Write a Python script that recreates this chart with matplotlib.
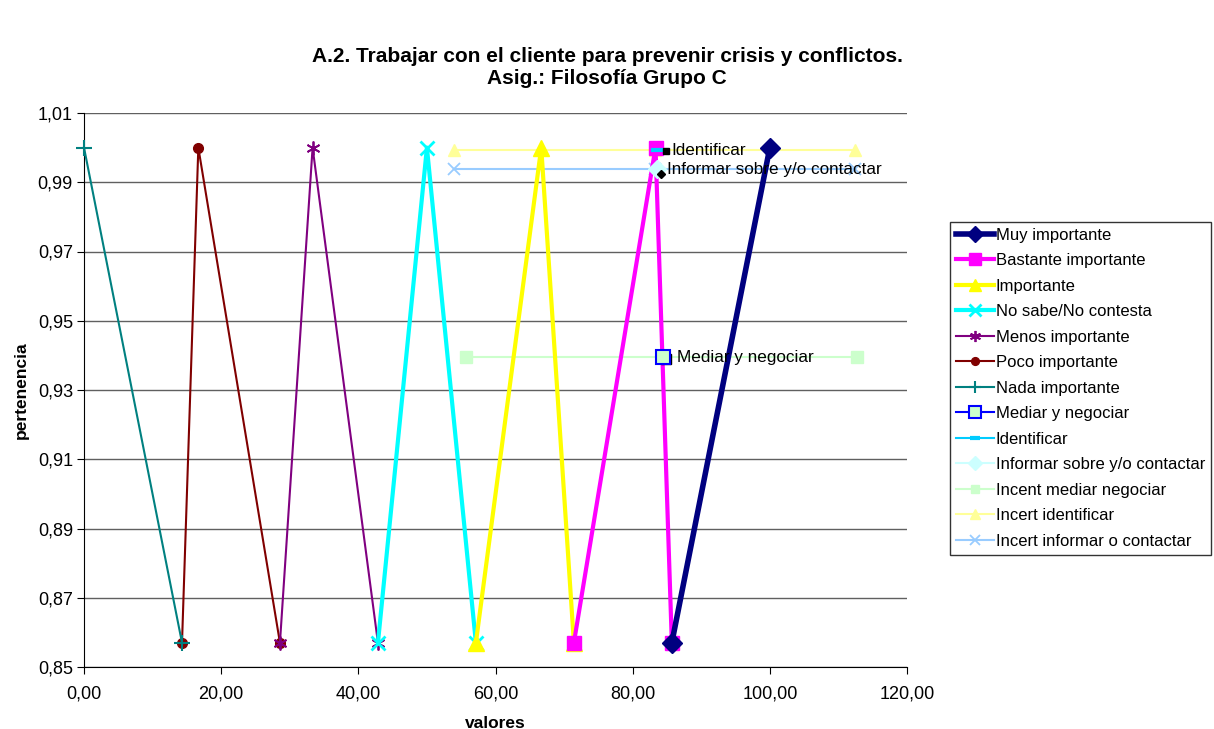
import matplotlib
matplotlib.use("Agg")
import matplotlib.pyplot as plt

plt.rcParams['font.family'] = ['Liberation Sans', 'DejaVu Sans']

# datos
nada_x = [0.00, 14.29]
nada_y = [1.00, 0.857]
poco_x = [14.29, 16.67, 28.57]
poco_y = [0.857, 1.00, 0.857]
menos_x = [28.57, 33.33, 42.86]
menos_y = [0.857, 1.00, 0.857]
nosabe_x = [42.86, 50.00, 57.14]
nosabe_y = [0.857, 1.00, 0.857]
importante_x = [57.14, 66.67, 71.43]
importante_y = [0.857, 1.00, 0.857]
bastante_x = [71.43, 83.33, 85.71]
bastante_y = [0.857, 1.00, 0.857]
muy_x = [85.71, 100.00]
muy_y = [0.857, 1.00]

mediar_x = [84.4]
mediar_y = [0.9395]
identificar_x = [83.6]
identificar_y = [0.9993]
informar_x = [83.6]
informar_y = [0.9937]

incent_mediar_x = [55.7, 84.4, 112.7]
incent_mediar_y = [0.9395, 0.9395, 0.9395]
incert_ident_x = [54.0, 83.3, 112.4]
incert_ident_y = [0.9993, 0.9993, 0.9993]
incert_inf_x = [54.0, 83.3, 112.4]
incert_inf_y = [0.9937, 0.9937, 0.9937]

yticks = [0.85, 0.87, 0.89, 0.91, 0.93, 0.95, 0.97, 0.99, 1.01]
xticks = [0, 20, 40, 60, 80, 100, 120]


def main():
    fig = plt.figure(figsize=(12.14, 7.29), dpi=100)
    ax = fig.add_axes([84 / 1214, 1 - 667 / 729, (907 - 84) / 1214, (667 - 113) / 729])

    ax.plot(muy_x, muy_y, color='#000080', lw=4, marker='D', ms=10, label='Muy importante', zorder=8)
    ax.plot(bastante_x, bastante_y, color='#FF00FF', lw=3, marker='s', ms=10, label='Bastante importante', zorder=7)
    ax.plot(importante_x, importante_y, color='#FFFF00', lw=3, marker='^', ms=11, label='Importante', zorder=6)
    ax.plot(nosabe_x, nosabe_y, color='#00FFFF', lw=3, marker='x', ms=10, mew=2, label='No sabe/No contesta', zorder=5)
    ax.plot(menos_x, menos_y, color='#800080', lw=1.5, marker=(6, 2, 0), ms=10, mew=1.3, label='Menos importante', zorder=4)
    ax.plot(poco_x, poco_y, color='#800000', lw=1.5, marker='o', ms=7, label='Poco importante', zorder=3)
    ax.plot(nada_x, nada_y, color='#008080', lw=1.5, marker='+', ms=11, mew=1.5, label='Nada importante',
            zorder=3, clip_on=False)

    ax.plot(incent_mediar_x, incent_mediar_y, color='#CCFFCC', lw=1.5, marker='s', ms=8,
            markevery=[0, 2], zorder=2)
    ax.plot(incert_ident_x, incert_ident_y, color='#FFFF99', lw=1.5, marker='^', ms=9, zorder=2)
    ax.plot(incert_inf_x, incert_inf_y, color='#99CCFF', lw=1.5, marker='x', ms=9, mew=1.3, zorder=2)

    ax.plot(mediar_x, mediar_y, color='#0000FF', lw=1.5, marker='s', ms=10, mfc='#CCFFCC', mew=1.5,
            label='Mediar y negociar', zorder=9)
    ax.plot(identificar_x, identificar_y, color='#00CCFF', lw=1.5, marker='_', ms=9, mew=3,
            label='Identificar', zorder=9)
    ax.plot(informar_x, informar_y, color='#CCFFFF', lw=1.5, marker='D', ms=9,
            label='Informar sobre y/o contactar', zorder=9)

    # etiquetas de datos
    ax.plot([84.8], [0.9990], color='black', marker='s', ms=4, linestyle='none', zorder=10)
    ax.plot([84.2], [0.9925], color='black', marker='D', ms=4, linestyle='none', zorder=10)
    ax.plot([84.9], [0.9390], color='black', marker='s', ms=7, mfc='none', mew=1, linestyle='none', zorder=8)
    ax.text(85.6, 0.9993, 'Identificar', fontsize=12.3, va='center', zorder=11)
    ax.text(85.0, 0.9937, 'Informar sobre y/o contactar', fontsize=12.3, va='center', zorder=11)
    ax.text(86.4, 0.9395, 'Mediar y negociar', fontsize=12.3, va='center', zorder=11)

    # entradas de leyenda para las series de incertidumbre
    ax.plot([], [], color='#CCFFCC', lw=1.5, marker='s', ms=8, label='Incent mediar negociar')
    ax.plot([], [], color='#FFFF99', lw=1.5, marker='^', ms=9, label='Incert identificar')
    ax.plot([], [], color='#99CCFF', lw=1.5, marker='x', ms=9, mew=1.3, label='Incert informar o contactar')

    ax.set_xlim(0, 120)
    ax.set_ylim(0.85, 1.01)
    ax.set_xticks(xticks)
    ax.set_xticklabels(['{:.2f}'.format(v).replace('.', ',') for v in xticks], fontsize=13)
    ax.set_yticks(yticks)
    ax.set_yticklabels(['{:.2f}'.format(v).replace('.', ',') for v in yticks], fontsize=13)
    ax.yaxis.grid(True, color='#606060', lw=1)
    ax.set_axisbelow(True)
    for side in ['top', 'right']:
        ax.spines[side].set_visible(False)
    ax.tick_params(direction='out', length=5)
    ax.tick_params(axis='y', pad=3)
    ax.tick_params(axis='x', pad=8)

    ax.set_xlabel('valores', fontsize=12.5, fontweight='bold', labelpad=10)
    ax.set_ylabel('pertenencia', fontsize=12.5, fontweight='bold', labelpad=6)

    fig.text(0.5, 0.908, 'A.2. Trabajar con el cliente para prevenir crisis y conflictos.\nAsig.: Filosofía Grupo C',
             ha='center', va='center', fontsize=15, fontweight='bold', linespacing=1.2)

    leg = fig.legend(loc='upper left', bbox_to_anchor=(950 / 1214, 1 - 222 / 729), fontsize=12,
                     frameon=True, fancybox=False, edgecolor='black', borderpad=0.35,
                     labelspacing=0.63, handlelength=2.3, handletextpad=0.1, borderaxespad=0,
                     markerscale=0.8)
    leg.get_frame().set_linewidth(1)

    fig.savefig('out.png', dpi=100)


if __name__ == '__main__':
    main()
